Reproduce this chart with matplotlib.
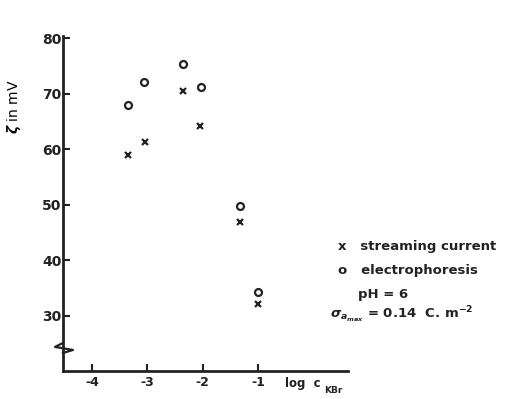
import matplotlib.pyplot as plt

# zeta potential vs log of KBr concentration
log_c_sc = [-3.35, -3.05, -2.36, -2.05, -1.33, -1.0]
zeta_sc = [59.0, 61.3, 70.5, 64.2, 46.8, 32.1]
log_c_ep = [-3.35, -3.06, -2.36, -2.04, -1.33, -1.0]
zeta_ep = [68.0, 72.1, 75.3, 71.2, 49.7, 34.2]

xticks = [-4, -3, -2, -1]
yticks = [30, 40, 50, 60, 70, 80]

plt.rcParams['font.family'] = ['DejaVu Sans']
plt.rcParams['font.weight'] = 'bold'
ink = '#222222'

fig = plt.figure(figsize=(5.06, 3.99), dpi=100)
ax = fig.add_axes([0.1245, 0.070, 0.5635, 0.84])

ax.plot(log_c_sc, zeta_sc, linestyle='none', marker='x', color=ink,
        markersize=4, markeredgewidth=1.6)
ax.plot(log_c_ep, zeta_ep, linestyle='none', marker='o', color=ink,
        markerfacecolor='none', markersize=5, markeredgewidth=1.6)

ax.set_xlim(-4.52, 0.62)
ax.set_ylim(20, 80.4)
ax.set_xticks(xticks)
ax.set_xticklabels(['-4', '-3', '-2', '-1'])
ax.set_yticks(yticks)
ax.tick_params(direction='in', length=5, width=1.5, labelsize=10, colors=ink)
ax.tick_params(axis='y', pad=1)
ax.tick_params(axis='x', labelsize=9)
for s in ['top', 'right']:
    ax.spines[s].set_visible(False)
for s in ['left', 'bottom']:
    ax.spines[s].set_linewidth(2)
    ax.spines[s].set_color(ink)

# axis break zigzag on the y axis
ax.plot([0, 0.0, 0.0], [0.09, 0.075, 0.03],
        transform=ax.transAxes, color='white', linewidth=3, clip_on=False)
ax.plot([0.0, -0.028, 0.035, 0.0],
        [0.084, 0.072, 0.063, 0.054],
        transform=ax.transAxes, color=ink, linewidth=1.6, clip_on=False)

ax.set_ylabel(r'$\zeta$ in mV', fontsize=10, labelpad=4)
ax.yaxis.set_label_coords(-0.14, 0.79)

fig.text(0.563, 0.04, 'log  c', fontsize=8.5, color=ink, va='center')
fig.text(0.640, 0.022, 'KBr', fontsize=6.5, color=ink, va='center')

# legend and conditions
fig.text(0.668, 0.383, 'x   streaming current', fontsize=9.5, color=ink,
         va='center')
fig.text(0.668, 0.321, 'o   electrophoresis', fontsize=9.5, color=ink,
         va='center')
fig.text(0.708, 0.261, 'pH = 6', fontsize=9.5, color=ink, va='center')
fig.text(0.652, 0.21, r'$\sigma_{a_{max}}$ = 0.14  C. m$^{-2}$', fontsize=9.5,
         color=ink, va='center')

fig.savefig('out.png', dpi=100)
